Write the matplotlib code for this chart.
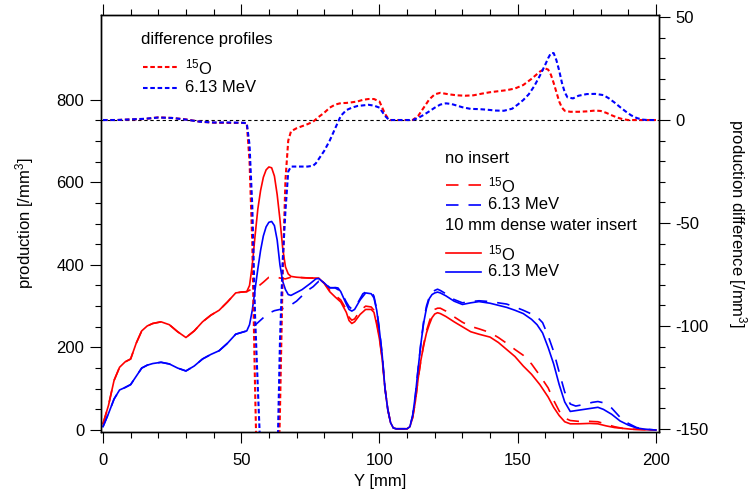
import matplotlib
matplotlib.use('Agg')
import matplotlib.pyplot as plt
from matplotlib.ticker import MultipleLocator, FixedLocator

plt.rcParams['font.family'] = ['Liberation Sans', 'DejaVu Sans']
plt.rcParams['font.size'] = 12
plt.rcParams['axes.unicode_minus'] = False
plt.rcParams['mathtext.fontset'] = 'custom'
plt.rcParams['mathtext.rm'] = 'Liberation Sans'
plt.rcParams['mathtext.it'] = 'Liberation Sans'
plt.rcParams['mathtext.default'] = 'regular'

# production profiles, (Y [mm], production [/mm^3])
o15_insert = [(0, 15), (2, 60), (4, 120), (6, 152), (8, 165), (10, 172), (12, 210), (14, 240), (16, 252),
              (18, 258), (21, 262), (24, 255), (27, 238), (30, 224), (33, 240), (36, 262), (39, 278),
              (42, 290), (45, 310), (48, 332), (50, 334), (52, 335), (53, 350), (54, 400), (55, 470),
              (56, 535), (57, 580), (58, 612), (59, 630), (60, 637), (61, 635), (62, 615), (63, 570),
              (64, 510), (65, 440), (66, 395), (67, 378), (68, 372), (70, 370), (72, 369), (75, 368),
              (78, 368), (80, 355), (82, 335), (84, 322), (86, 310), (88, 285), (89, 265), (90, 258),
              (91, 262), (93, 280), (95, 292), (97, 292), (98, 285), (99, 255), (100, 220), (101, 170),
              (102, 100), (103, 50), (104, 18), (105, 5), (106, 3), (110, 3), (111, 8), (112, 30),
              (113, 70), (114, 125), (115, 170), (116, 205), (117, 235), (118, 255), (119, 272),
              (120, 281), (121, 284), (122, 282), (124, 275), (127, 262), (130, 250), (133, 238),
              (136, 232), (140, 225), (143, 212), (146, 195), (149, 178), (152, 155), (155, 135),
              (158, 110), (161, 80), (163, 55), (165, 35), (167, 20), (169, 15), (172, 15), (176, 16),
              (179, 15), (182, 10), (185, 6), (188, 4), (191, 2), (195, 1), (200, 0)]

o15_noinsert = [(0, 15), (2, 60), (4, 120), (6, 152), (8, 165), (10, 172), (12, 210), (14, 240), (16, 252),
                (18, 258), (21, 262), (24, 255), (27, 238), (30, 224), (33, 240), (36, 262), (39, 278),
                (42, 290), (45, 310), (48, 332), (50, 334), (52, 335), (54, 342), (56, 347), (58, 358),
                (60, 370), (62, 372), (64, 368), (66, 366), (68, 370), (70, 370), (72, 369), (75, 368),
                (78, 368), (80, 356), (82, 338), (84, 326), (86, 315), (88, 292), (89, 273), (90, 266),
                (91, 269), (93, 289), (95, 300), (97, 298), (98, 290), (99, 262), (100, 225), (101, 172),
                (102, 102), (103, 50), (104, 18), (105, 5), (106, 3), (110, 3), (111, 8), (112, 30),
                (113, 70), (114, 125), (115, 170), (116, 208), (117, 240), (118, 262), (119, 282),
                (120, 292), (121, 295), (122, 295), (124, 288), (127, 274), (130, 261), (133, 251),
                (136, 245), (140, 236), (143, 224), (146, 210), (149, 195), (152, 181), (155, 160),
                (158, 132), (161, 102), (163, 72), (165, 46), (167, 29), (169, 23), (172, 21), (176, 21),
                (179, 20), (182, 14), (185, 8), (188, 4), (191, 2), (195, 1), (200, 0)]

mev_insert = [(0, 8), (2, 40), (4, 75), (6, 97), (8, 103), (10, 110), (12, 130), (14, 150), (16, 157),
              (18, 161), (21, 164), (24, 160), (27, 150), (30, 143), (33, 155), (36, 172), (39, 183),
              (42, 192), (45, 210), (48, 232), (50, 236), (52, 240), (53, 255), (54, 290), (55, 340),
              (56, 390), (57, 435), (58, 470), (59, 492), (60, 503), (61, 505), (62, 495), (63, 460),
              (64, 400), (65, 360), (66, 340), (67, 328), (68, 326), (70, 333), (72, 340), (75, 355),
              (77, 366), (78, 367), (80, 356), (82, 344), (84, 345), (85, 344), (86, 335), (88, 305),
              (89, 292), (90, 288), (91, 292), (93, 315), (95, 332), (97, 330), (98, 320), (99, 290),
              (100, 240), (101, 180), (102, 100), (103, 50), (104, 18), (105, 5), (106, 3), (110, 3),
              (111, 8), (112, 35), (113, 85), (114, 150), (115, 210), (116, 260), (117, 295), (118, 318),
              (119, 328), (120, 332), (121, 334), (122, 332), (124, 325), (127, 312), (130, 304),
              (133, 308), (136, 311), (140, 307), (143, 302), (146, 297), (149, 290), (152, 282),
              (155, 268), (157, 255), (159, 235), (161, 200), (163, 160), (165, 110), (167, 68),
              (169, 45), (171, 47), (174, 50), (177, 53), (179, 55), (181, 50), (184, 38), (187, 22),
              (190, 12), (193, 5), (196, 2), (200, 0)]

mev_noinsert = [(0, 8), (2, 40), (4, 75), (6, 97), (8, 103), (10, 110), (12, 130), (14, 150), (16, 157),
                (18, 161), (21, 164), (24, 160), (27, 150), (30, 143), (33, 155), (36, 172), (39, 183),
                (42, 192), (45, 210), (48, 232), (50, 236), (52, 240), (54, 248), (56, 260), (58, 272),
                (60, 283), (62, 289), (64, 292), (66, 296), (68, 303), (70, 312), (72, 325), (74, 338),
                (76, 347), (78, 360), (80, 356), (82, 345), (84, 344), (86, 336), (88, 310), (89, 299),
                (90, 293), (92, 306), (94, 330), (96, 338), (97, 336), (98, 324), (99, 292), (100, 242),
                (101, 182), (102, 101), (103, 50), (104, 18), (105, 5), (106, 3), (110, 3), (111, 8),
                (112, 35), (113, 85), (114, 150), (115, 212), (116, 264), (117, 300), (118, 322),
                (119, 334), (120, 338), (121, 341), (122, 338), (124, 330), (127, 316), (130, 308),
                (133, 311), (136, 313), (140, 311), (143, 308), (146, 305), (149, 298), (152, 290),
                (155, 281), (157, 274), (159, 260), (161, 228), (163, 190), (165, 140), (167, 92),
                (169, 63), (171, 58), (174, 62), (177, 67), (179, 69), (181, 66), (184, 53), (187, 31),
                (190, 16), (193, 6), (196, 2), (200, 0)]

# difference profiles (right axis)
o15_diff = [(0, 0), (5, 0), (10, 0.3), (15, 0.5), (20, 1.3), (25, 1.0), (30, 0.3), (35, -0.8), (40, -1.3),
            (45, -1.4), (50, -1.4), (52, -1.5), (53, -20), (54, -60), (55, -130), (56, -190), (57, -233),
            (58, -255), (60, -267), (62, -243), (63, -200), (64, -142), (65, -74), (66, -29), (67, -10),
            (68, -5.5), (70, -4), (72, -3), (74, -2), (76, -0.8), (78, 1.5), (80, 3.5), (82, 6), (84, 7.5),
            (86, 8.2), (88, 8.3), (90, 8.6), (92, 9), (94, 9.8), (96, 10.2), (98, 10.2), (100, 9),
            (101, 6), (102, 3), (103, 1), (104, 0), (112, 0), (114, 2), (116, 6), (118, 10), (120, 12.5),
            (122, 13.2), (125, 12.5), (128, 12), (131, 11.8), (134, 12), (137, 12.8), (140, 13.5),
            (143, 14), (146, 14.5), (149, 15.3), (152, 17), (155, 20), (158, 23.5), (160, 25),
            (161, 24.5), (162, 22), (163, 18), (164, 13.5), (165, 9), (166, 6), (167, 4.5), (169, 4),
            (172, 4), (175, 4.2), (178, 4.6), (180, 4.4), (182, 3.5), (184, 2.3), (186, 1.2), (188, 0.4),
            (190, 0), (200, 0)]

mev_diff = [(0, 0), (5, 0), (10, 0.3), (15, 0.6), (20, 1.2), (25, 1.0), (30, 0.2), (35, -0.8), (40, -1.2),
            (45, -1.2), (50, -1.3), (52, -1.5), (53, -12), (54, -42), (55, -95), (56, -130), (57, -163),
            (58, -198), (60, -220), (62, -206), (63, -171), (64, -108), (65, -68), (66, -44), (67, -25),
            (68, -22.6), (70, -22.6), (72, -22.6), (74, -22.6), (76, -22.2), (77, -21), (78, -19),
            (80, -15), (82, -10), (84, -4), (86, 2), (88, 4.8), (90, 6), (92, 6.8), (94, 7.1), (96, 7.4),
            (98, 7), (100, 6), (101, 4), (102, 2), (103.5, 0), (112, 0), (114, 1), (116, 2.5), (118, 4.2),
            (120, 6), (122, 7.5), (124, 8.1), (126, 7.8), (128, 7), (130, 6.2), (133, 5.4), (136, 5.3),
            (139, 5), (142, 4.6), (145, 4.5), (148, 5.5), (150, 7.5), (152, 9.7), (154, 12.5), (156, 16.5),
            (158, 21.5), (160, 27), (161, 30), (162, 32.5), (163, 32.5), (164, 29), (165, 24), (166, 18),
            (167, 13.5), (168, 11), (170, 10.5), (172, 11.8), (175, 12.6), (178, 12.7), (181, 12.1),
            (183, 10.5), (185, 8.5), (187, 6.3), (189, 4.2), (191, 2.3), (193, 1), (195, 0.2), (197, 0),
            (200, 0)]

red = '#ff0000'
blue = '#0000ff'
dotted = (0, (2.2, 1.3))
dashed = (0, (7.5, 6))

fig = plt.figure(figsize=(7.51, 4.92), dpi=100)
W, H = 751, 492
L, R, T, B = 101, 659, 15, 432
ax = fig.add_axes([L / W, 1 - B / H, (R - L) / W, (B - T) / H])
ax2 = ax.twinx()

for data, c, ls in [(o15_noinsert, red, dashed), (mev_noinsert, blue, dashed),
                    (o15_insert, red, '-'), (mev_insert, blue, '-')]:
    xs, ys = zip(*data)
    ax.plot(xs, ys, color=c, linestyle=ls, lw=1.2)

ax2.axhline(0, color='black', lw=0.8, linestyle=(0, (3, 2.5)))
for data, c in [(o15_diff, red), (mev_diff, blue)]:
    xs, ys = zip(*data)
    ax2.plot(xs, ys, color=c, linestyle=dotted, lw=1.5)

ax.set_xlim(-0.72, 201.1)
ax.set_ylim(-4.8, 1005)
ax2.set_ylim(-151.5, 51)

ax.xaxis.set_major_locator(MultipleLocator(50))
ax.xaxis.set_minor_locator(MultipleLocator(10))
ax.yaxis.set_major_locator(FixedLocator([0, 200, 400, 600, 800]))
ax.yaxis.set_minor_locator(FixedLocator([v for v in range(50, 800, 50) if v % 200]))
ax2.yaxis.set_major_locator(MultipleLocator(50))
ax2.yaxis.set_minor_locator(MultipleLocator(10))

for a in (ax, ax2):
    for s in a.spines.values():
        s.set_linewidth(1.0)
ax.tick_params(which='major', direction='out', length=8, width=0.8, top=True, pad=4)
ax.tick_params(which='minor', direction='out', length=4.5, width=0.8, top=True)
ax.tick_params(axis='x', which='major', pad=7)
ax2.tick_params(which='major', direction='out', length=8, width=0.8, pad=4)
ax2.tick_params(which='minor', direction='out', length=4.5, width=0.8)

ax.set_xlabel('Y [mm]')
ax.xaxis.set_label_coords(0.5, -0.1)
ax.set_ylabel('production [/mm$^3$]')
ax.yaxis.set_label_coords(-0.116, 0.5)
ax2.set_ylabel('production difference [/mm$^3$]', rotation=270, va='center')
ax2.yaxis.set_label_coords(1.14, 0.5)


def px(x, y):
    return (x - L) / (R - L), (B - y) / (B - T)


def key(x0, y, text, color=None, ls='-', lw=1.2):
    if color is not None:
        (a0, b0), (a1, _) = px(x0, y), px(x0 + 35, y)
        ax2.plot([a0, a1], [b0, b0], color=color, linestyle=ls, lw=lw,
                 transform=ax2.transAxes, clip_on=False)
        tx = x0 + 42
    else:
        tx = x0
    ax2.text(*px(tx, y), text, transform=ax2.transAxes, va='center', ha='left')


o15_label = '$^{15}$O'
mev_label = '6.13 MeV'

key(141, 40, 'difference profiles')
key(143, 67, o15_label, red, dotted, 1.5)
key(143, 88, mev_label, blue, dotted, 1.5)

key(445, 159, 'no insert')
key(446, 185, o15_label, red, dashed)
key(446, 205, mev_label, blue, dashed)
key(445, 226, '10 mm dense water insert')
key(446, 253, o15_label, red)
key(446, 272, mev_label, blue)

fig.savefig('out.png', dpi=100)
